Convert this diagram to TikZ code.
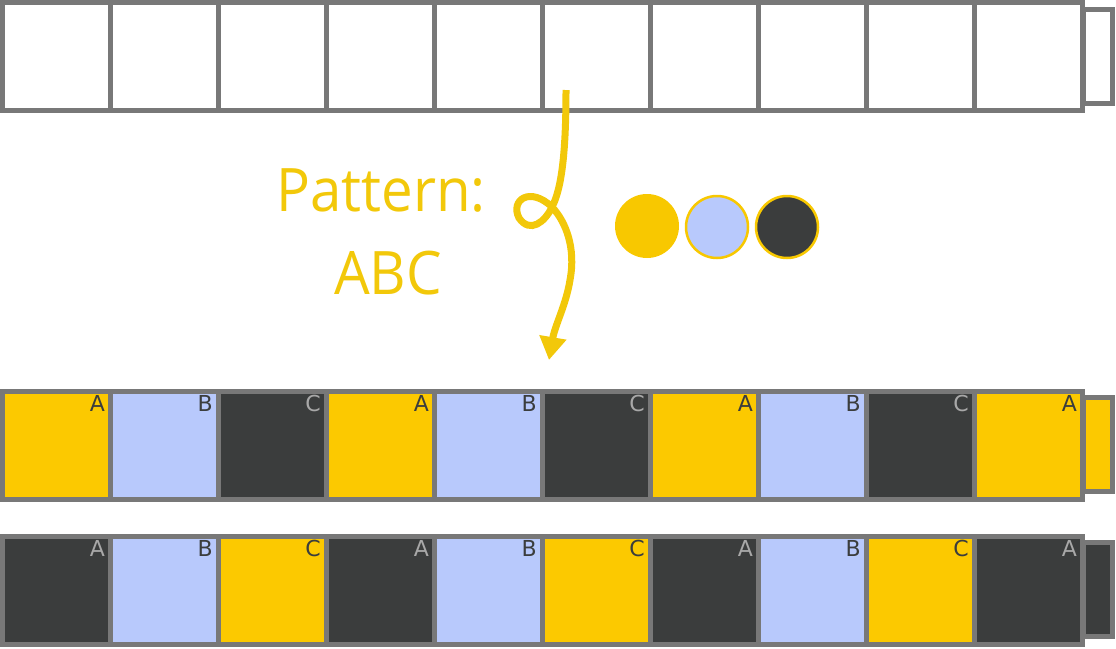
\documentclass[tikz,border=0pt]{standalone}
\usepackage{fontspec}
\usetikzlibrary{arrows.meta}
\newfontfamily\pfont[FakeStretch=0.94]{Open Sans}
\newfontfamily\lfont{DejaVu Sans}
\definecolor{gridgray}{HTML}{787878}
\definecolor{cyel}{HTML}{FCC900}
\definecolor{cblue}{HTML}{B8C9FC}
\definecolor{cdark}{HTML}{3B3D3D}
\definecolor{lgray}{HTML}{A8A8A8}
\definecolor{ayel}{HTML}{F2C80A}
\definecolor{dyel}{HTML}{F8C800}
\tikzset{
  cell/.style={draw=gridgray, line width=5pt, minimum width=108pt, minimum height=108pt, inner sep=0pt, outer sep=0pt},
  capbox/.style={draw=gridgray, line width=5pt, minimum width=29.5pt, inner sep=0pt, outer sep=0pt},
  lab/.style={font=\lfont\fontsize{22}{24}\selectfont, inner sep=0pt, anchor=north east},
  big/.style={font=\pfont\fontsize{60}{72}\selectfont, text=ayel, inner sep=0pt, anchor=base},
  dot/.style={circle, inner sep=0pt, minimum size=62pt, line width=2.5pt}
}
\begin{document}
\begin{tikzpicture}[x=1pt,y=-1pt]
\useasboundingbox (0,0) rectangle (1116,648);
% row 1 (empty)
\foreach \i in {0,...,9} {
  \node[cell, fill=white] (a\i) at ({56+108*\i},56.5) {};
}
\node[capbox, fill=white, minimum height=94pt] (acap) at (1097.75,56) {};
% row 2
\foreach \i/\c/\t/\l in {0/cyel/cdark/A,1/cblue/cdark/B,2/cdark/lgray/C,3/cyel/cdark/A,4/cblue/cdark/B,5/cdark/lgray/C,6/cyel/cdark/A,7/cblue/cdark/B,8/cdark/lgray/C,9/cyel/cdark/A} {
  \node[cell, fill=\c] (b\i) at ({56+108*\i},445) {};
  \node[lab, text=\t] (bl\i) at ({108+108*\i-3},395) {\l};
}
\node[capbox, fill=cyel, minimum height=94pt] (bcap) at (1097.75,444) {};
% row 3
\foreach \i/\c/\t/\l in {0/cdark/lgray/A,1/cblue/cdark/B,2/cyel/cdark/C,3/cdark/lgray/A,4/cblue/cdark/B,5/cyel/cdark/C,6/cdark/lgray/A,7/cblue/cdark/B,8/cyel/cdark/C,9/cdark/lgray/A} {
  \node[cell, fill=\c] (c\i) at ({56+108*\i},590) {};
  \node[lab, text=\t] (cl\i) at ({108+108*\i-3},540) {\l};
}
\node[capbox, fill=cdark, minimum height=94pt] (ccap) at (1097.75,589) {};
% text
\node[big] (pat) at (381,211) {Pattern:};
\node[big] (abc) at (388,294) {ABC};
% circles
\node[dot, fill=dyel, minimum size=64pt] (d1) at (647,226) {};
\node[dot, fill=cblue, draw=dyel] (d2) at (717,227) {};
\node[dot, fill=cdark, draw=dyel] (d3) at (787,227) {};
% arrow
\coordinate (s) at (566,90);
\coordinate (x) at (552,207);
\coordinate (e) at (549,360);
\draw[ayel, line width=7pt, -{Triangle[length=23pt,width=26pt]}]
  (s) .. controls (566,150) and (562,188) .. (x)
  .. controls (545,222) and (530,234) .. (519,218)
  .. controls (510,200) and (530,186) .. (x)
  .. controls (566,222) and (576,248) .. (570,280)
  .. controls (566,305) and (555,325) .. (e);
\end{tikzpicture}
\end{document}
